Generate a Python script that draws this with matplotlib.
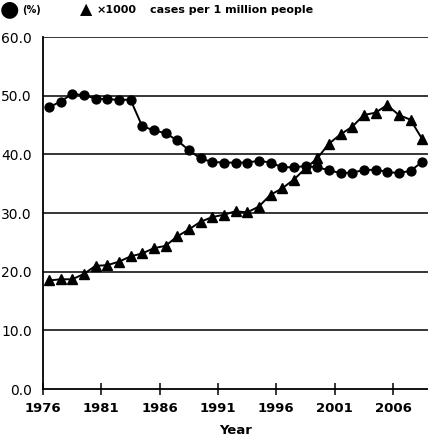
import numpy as np
from matplotlib import pyplot as plt

years = list(range(1976, 2009))

# percentage (circles)
percent = [48.0, 49.0, 50.3, 50.1, 49.5, 49.4, 49.3, 49.3, 44.8, 44.1, 43.6, 42.4,
           40.7, 39.3, 38.7, 38.6, 38.6, 38.6, 38.9, 38.6, 37.8, 37.8, 38.0, 37.8,
           37.3, 36.8, 36.9, 37.3, 37.4, 37.0, 36.8, 37.2, 38.7]

# x1000 cases per 1 million people (triangles)
cases = [18.5, 18.7, 18.7, 19.6, 21.0, 21.1, 21.7, 22.6, 23.1, 24.0, 24.4, 26.0,
         27.2, 28.5, 29.3, 29.7, 30.3, 30.1, 31.1, 33.1, 34.2, 35.7, 37.6, 39.3,
         41.8, 43.4, 44.7, 46.7, 47.1, 48.4, 46.7, 45.9, 42.6]

tick_years = [1976, 1981, 1986, 1991, 1996, 2001, 2006]
y_ticks = [0, 10, 20, 30, 40, 50, 60]

plt.rcParams['font.family'] = ['DejaVu Sans']
fig = plt.figure(figsize=(4.28, 4.40), dpi=100)
ax = fig.add_axes([0.1005, 0.1159, 0.8995, 0.8])

for y in y_ticks[1:]:
    ax.axhline(y, color='black', lw=1.1, zorder=1)

ax.plot(years, percent, color='black', lw=1.4, marker='o', markersize=6.4, zorder=3)
ax.plot(years, cases, color='black', lw=1.4, marker='^', markersize=7.0, zorder=3)

ax.set_xlim(1975.5, 2008.5)
ax.set_ylim(0, 60)
ax.set_xticks([t - 0.5 for t in tick_years])
ax.set_xticklabels([str(t) for t in tick_years], fontsize=9.5, fontweight='bold')
ax.set_yticks(y_ticks)
ax.set_yticklabels([f'{v:.1f}' for v in y_ticks], fontsize=10)
ax.tick_params(axis='x', direction='inout', length=9, width=1.1, pad=5)
ax.tick_params(axis='y', length=0, pad=8)

for side in ['top', 'right']:
    ax.spines[side].set_visible(False)
for side in ['left', 'bottom']:
    ax.spines[side].set_linewidth(1.3)

ax.set_xlabel('Year', fontsize=9.5, fontweight='bold', labelpad=6)

# legend along the top
fig.text(0.0, 0.978, '\u25cf', fontsize=16, va='center', ha='left')
fig.text(0.052, 0.978, '(%)', fontsize=7, fontweight='bold', va='center')
fig.text(0.187, 0.978, '\u25b2', fontsize=11.5, va='center', ha='left')
fig.text(0.226, 0.978, '\u00d71000', fontsize=8, fontweight='bold', va='center')
fig.text(0.35, 0.978, 'cases per 1 million people', fontsize=8, fontweight='bold', va='center')

fig.savefig('out.png', dpi=100)
